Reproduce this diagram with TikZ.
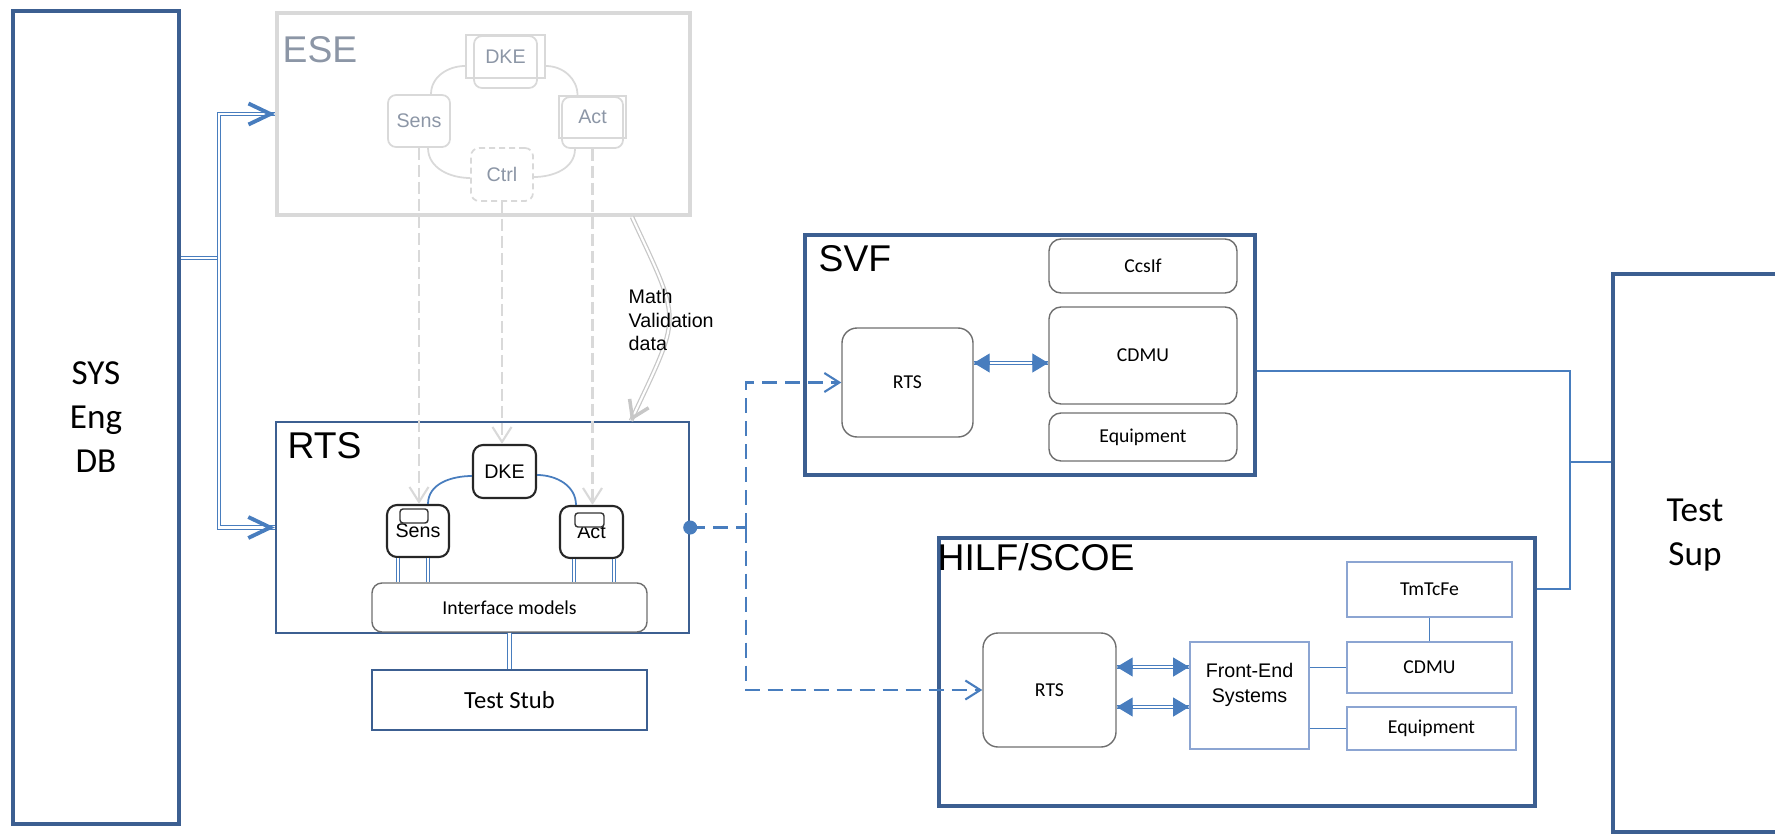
\documentclass[tikz,border=0pt]{standalone}
\usepackage{fontspec}
\setmainfont{Liberation Sans}
\newfontfamily\calibri{Carlito}
\usetikzlibrary{arrows.meta}
\definecolor{sysnavy}{RGB}{60,95,145}
\definecolor{sysblue}{RGB}{72,125,190}
\definecolor{syspale}{RGB}{140,165,210}
\definecolor{esegrey}{RGB}{217,217,217}
\definecolor{esetext}{RGB}{140,150,166}
\definecolor{boxgrey}{RGB}{110,110,110}

\begin{document}
\begin{tikzpicture}[
  font=\fontsize{5.6}{6.8}\selectfont,
  bigframe/.style={draw=sysnavy, line width=1.15pt, inner sep=0pt},
  eseframe/.style={draw=esegrey, line width=1.15pt, inner sep=0pt},
  rtsframe/.style={draw=sysnavy, line width=0.7pt, inner sep=0pt},
  title/.style={anchor=base west, inner sep=0pt, font=\fontsize{10.6}{12}\selectfont},
  blockname/.style={align=center, font=\calibri\fontsize{10}{12.5}\selectfont},
  ghost/.style={draw=esegrey, line width=0.5pt, rounded corners=0.08cm, text=esetext, inner sep=0pt},
  ghostsq/.style={draw=esegrey, line width=0.5pt, text=esetext, inner sep=0pt},
  model/.style={draw=black!85, line width=0.6pt, rounded corners=0.1cm, fill=white, inner sep=0pt},
  tag/.style={draw=black!80, line width=0.4pt, rounded corners=0.03cm, fill=white, inner sep=0pt},
  unit/.style={draw=boxgrey, line width=0.4pt, rounded corners=0.12cm, inner sep=0pt,
               font=\calibri\fontsize{5.6}{6.8}\selectfont},
  hwunit/.style={draw=syspale, line width=0.5pt, inner sep=0pt,
                 font=\calibri\fontsize{5.6}{6.8}\selectfont},
  dbl/.style={draw=sysblue, line width=0.35pt, double=white, double distance=0.6pt},
  bluebarb/.style={draw=sysblue, line width=1.1pt, -{Straight Barb[length=2.2mm,width=2.1mm]}},
  bluetri/.style={draw=sysblue, line width=0.3pt, -{Triangle[length=1.6mm,width=1.9mm]}},
  greybarb/.style={draw=black!22, line width=1pt, -{Straight Barb[length=1.6mm,width=2.1mm]}},
  ring/.style={draw=esegrey, line width=0.5pt},
  link/.style={draw=sysblue, line width=0.5pt},
  trace/.style={draw=esegrey, line width=0.6pt, dash pattern=on 1.2mm off 0.5mm,
                -{Straight Barb[length=1.5mm,width=1.9mm]}},
  probe/.style={draw=sysblue, line width=0.6pt, dash pattern=on 1.5mm off 0.8mm},
  mathflow/.style={draw=black!22, line width=0.35pt, double=white, double distance=0.6pt}
]
\useasboundingbox (0,0) rectangle (17.75,8.36);

\node[bigframe, minimum width=1.66cm, minimum height=8.13cm, blockname] (sysdb) at (0.96,4.185) {SYS\\Eng\\DB};

% ESE
\node[eseframe, minimum width=4.13cm, minimum height=2.02cm] (ese) at (4.835,7.22) {};
\node[title, text=esetext] (esetitle) at (2.82,7.74) {ESE};
\node[ghost, minimum width=0.63cm, minimum height=0.52cm] (edkeback) at (5.055,7.74) {};
\node[ghostsq, minimum width=0.79cm, minimum height=0.43cm] (edke) at (5.055,7.795) {DKE};
\node[ghost, minimum width=0.62cm, minimum height=0.52cm] (esens) at (4.19,7.15) {Sens};
\node[ghost, minimum width=0.61cm, minimum height=0.51cm] (eactback) at (5.925,7.135) {};
\node[ghostsq, minimum width=0.67cm, minimum height=0.42cm] (eact) at (5.925,7.19) {Act};
\node[ghost, dash pattern=on 0.6mm off 0.4mm, minimum width=0.62cm, minimum height=0.53cm] (ectrl) at (5.02,6.615) {Ctrl};
\draw[ring] ([xshift=1.2mm]esens.north) to[out=90,in=180] ([yshift=-0.95mm]edke.west);
\draw[ring] ([yshift=-0.95mm]edke.east) to[out=0,in=90] ([xshift=-1.5mm]eact.north);
\draw[ring] ([xshift=0.9mm]esens.south) to[out=-90,in=180] ([yshift=-0.35mm]ectrl.west);
\draw[ring] ([yshift=-0.25mm]ectrl.east) to[out=0,in=-90] ([xshift=-1.75mm]eactback.south);

% RTS
\node[rtsframe, minimum width=4.13cm, minimum height=2.11cm] (rts) at (4.825,3.085) {};
\node[title] (rtstitle) at (2.87,3.78) {RTS};
\node[model, minimum width=0.63cm, minimum height=0.53cm] (rdke) at (5.045,3.645) {DKE};
\node[model, minimum width=0.62cm, minimum height=0.52cm] (rsens) at (4.18,3.05) {Sens};
\node[model, minimum width=0.63cm, minimum height=0.52cm] (ract) at (5.915,3.04) {Act};
\node[tag, minimum width=0.28cm, minimum height=0.14cm] (rsenstag) at (4.14,3.20) {};
\node[tag, minimum width=0.29cm, minimum height=0.14cm] (racttag) at (5.895,3.16) {};
\draw[link] ([xshift=1mm]rsens.north) to[out=90,in=180] ([yshift=-0.45mm]rdke.west);
\draw[link] ([yshift=-0.35mm]rdke.east) to[out=0,in=90] ([xshift=-1.55mm]ract.north);
\node[unit, minimum width=2.75cm, minimum height=0.49cm, rounded corners=0.1cm] (ifm) at (5.095,2.285) {Interface models};
\foreach \dx/\part in {-2/rsens, 1/rsens, -1.75/ract, 2.25/ract}
  \draw[dbl] ([xshift=\dx mm]\part.south) -- ([xshift=\dx mm]\part.south |- ifm.north);
\node[rtsframe, minimum width=2.75cm, minimum height=0.60cm, font=\calibri\fontsize{7}{8}\selectfont] (stub) at (5.095,1.36) {Test Stub};
\draw[dbl] (ifm.south) -- (stub.north);

\draw[trace] (esens.south) -- (esens.south |- rsens.north);
\draw[trace] (ectrl.south) -- (ectrl.south |- rdke.north);
\draw[trace] (eactback.south) -- (eactback.south |- ract.north);
\coordinate (mathstart) at ([xshift=1.485cm]ese.south);
\coordinate (mathend) at ([xshift=1.485cm]rts.north);
\draw[mathflow] (mathstart) to[out=-65,in=65,looseness=1.5] (mathend);
\draw[greybarb] ([shift={(65:0.6mm)}]mathend) -- (mathend);
\node[anchor=west, align=left, inner sep=0pt] (mathnote) at (6.28,5.16) {Math\\Validation\\data};

% feeds from the data base
\coordinate (fork) at (2.19,5.78);
\draw[dbl] (sysdb.east |- fork) -- (fork);
\draw[dbl] (fork) |- (ese.west);
\draw[dbl] (fork) |- (rts.west);
\draw[bluebarb] ([xshift=-0.6mm]ese.west) -- (ese.west);
\draw[bluebarb] ([xshift=-0.6mm]rts.west) -- (rts.west);

% SVF
\node[bigframe, minimum width=4.50cm, minimum height=2.40cm] (svf) at (10.30,4.81) {};
\node[title] (svftitle) at (8.18,5.65) {SVF};
\node[unit, minimum width=1.31cm, minimum height=1.09cm, rounded corners=0.15cm] (svfrts) at (9.075,4.535) {RTS};
\node[unit, minimum width=1.88cm, minimum height=0.54cm] (svfccs) at (11.43,5.70) {CcsIf};
\node[unit, minimum width=1.88cm, minimum height=0.97cm] (svfcdmu) at (11.43,4.805) {CDMU};
\node[unit, minimum width=1.88cm, minimum height=0.48cm] (svfequip) at (11.43,3.99) {Equipment};
\coordinate (svfxa) at ([yshift=1.95mm]svfrts.east);
\coordinate (svfxb) at (svfxa -| svfcdmu.west);

% HILF/SCOE
\node[bigframe, minimum width=5.96cm, minimum height=2.68cm] (hilf) at (12.37,1.64) {};
\node[title] (hilftitle) at (9.37,2.66) {HILF/SCOE};
\node[unit, minimum width=1.33cm, minimum height=1.14cm, rounded corners=0.15cm] (hrts) at (10.495,1.46) {RTS};
\node[hwunit, minimum width=1.19cm, minimum height=1.07cm, align=center, font=\fontsize{5.6}{7.1}\selectfont] (fes) at (12.495,1.405) {Front-End\\Systems\\~};
\node[hwunit, minimum width=1.65cm, minimum height=0.55cm] (tmtc) at (14.295,2.465) {TmTcFe};
\node[hwunit, minimum width=1.65cm, minimum height=0.51cm] (hcdmu) at (14.295,1.685) {CDMU};
\node[hwunit, minimum width=1.69cm, minimum height=0.43cm] (hequip) at (14.315,1.075) {Equipment};
\draw[link] (tmtc.south) -- (hcdmu.north);
\draw[link] (fes.east |- hcdmu.west) -- (hcdmu.west);
\draw[link] (fes.east |- hequip.west) -- (hequip.west);
\coordinate (hxa) at ([yshift=2.3mm]hrts.east);
\coordinate (hxb) at (hxa -| fes.west);
\coordinate (hxc) at ([yshift=-1.7mm]hrts.east);
\coordinate (hxd) at (hxc -| fes.west);

% two-way links
\foreach \a/\b in {svfxa/svfxb, hxa/hxb, hxc/hxd} {
  \draw[dbl] (\a) -- (\b);
  \draw[bluetri] ([xshift=1.6mm]\a) -- (\a);
  \draw[bluetri] ([xshift=-1.6mm]\b) -- (\b);
}

% probes out of the RTS
\fill[sysblue] (rts.east) circle (0.07);
\coordinate (probe) at ([xshift=5.6mm]rts.east);
\draw[probe] (rts.east) -- (probe);
\draw[probe, -{Straight Barb[length=1.5mm,width=1.9mm]}] (probe) |- (svfrts.west);
\draw[probe, -{Straight Barb[length=1.5mm,width=1.9mm]}] (probe) |- (hrts.west);

% Test Sup
\node[bigframe, minimum width=1.72cm, minimum height=5.58cm] (testsup) at (16.99,2.83) {};
\node[blockname] (testsuptext) at (16.95,3.01) {Test\\Sup};
\coordinate (bustop) at (15.70,4.65);
\coordinate (busbot) at (15.70,2.47);
\coordinate (bustap) at (15.70,3.74);
\draw[link] (svf.east |- bustop) -- (bustop) -- (busbot) -- (hilf.east |- busbot);
\draw[link] (bustap) -- (testsup.west |- bustap);
\end{tikzpicture}
\end{document}
